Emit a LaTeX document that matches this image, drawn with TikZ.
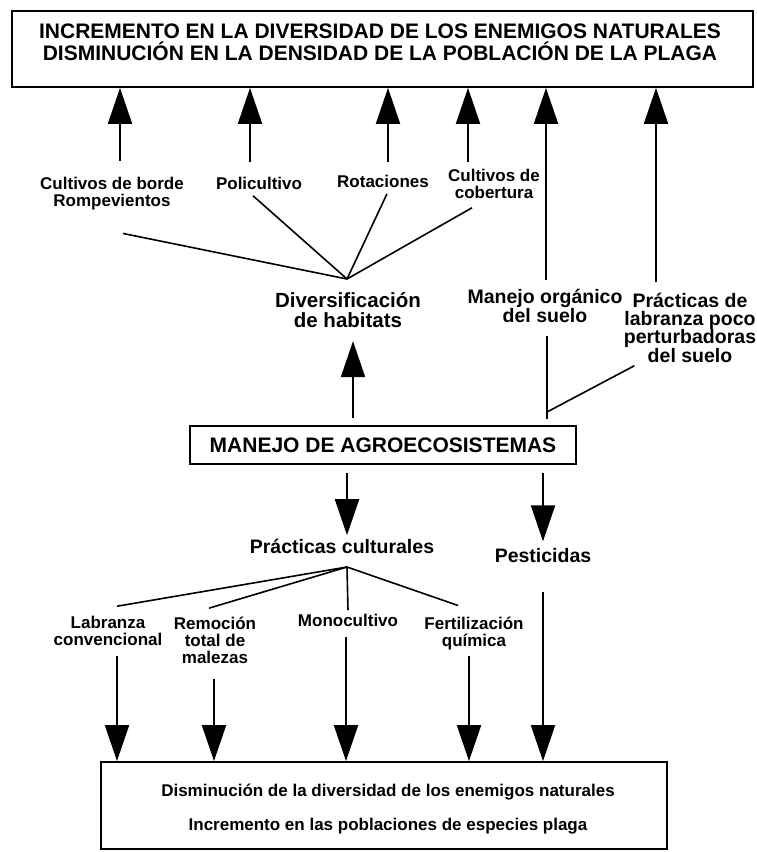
\documentclass[tikz,border=0pt]{standalone}
\usepackage{fontspec}
\setmainfont{Liberation Sans}
\usetikzlibrary{arrows.meta}
\tikzset{
  box/.style={draw,line width=1.8pt,inner sep=0pt},
  sm/.style={font=\fontsize{17}{17}\selectfont\bfseries,align=center},
  md/.style={font=\fontsize{19.5}{18.3}\selectfont\bfseries,align=center},
  lg/.style={font=\fontsize{21}{21.5}\selectfont\bfseries,align=center},
  arr/.style={line width=2pt,-{Triangle[length=36pt,width=24pt]}},
  br/.style={line width=1.6pt},
}
\begin{document}
\begin{tikzpicture}[x=1pt,y=-1pt]
\useasboundingbox (0,0) rectangle (757,852);
% boxes
\node[box,minimum width=741pt,minimum height=76pt] (top) at (382.5,49) {};
\node[lg] (toptxt) at (380,42.5) {INCREMENTO EN LA DIVERSIDAD DE LOS ENEMIGOS NATURALES\\DISMINUCIÓN EN LA DENSIDAD DE LA POBLACIÓN DE LA PLAGA};
\node[box,lg,minimum width=386pt,minimum height=38pt] (man) at (383,445) {MANEJO DE AGROECOSISTEMAS};
\node[box,minimum width=566pt,minimum height=87pt] (bot) at (384,805.5) {};
\node[align=center,font=\fontsize{17}{34}\selectfont\bfseries] (bottxt) at (388,809) {Disminución de la diversidad de los enemigos naturales\\Incremento en las poblaciones de especies plaga};
% upper labels
\node[sm] (borde) at (112,193.5) {Cultivos de borde\\Rompevientos};
\node[sm] (poli) at (259,183) {Policultivo};
\node[sm] (rot) at (383,181) {Rotaciones};
\node[sm] (cob) at (494,183.5) {Cultivos de\\cobertura};
\node[align=center,font=\fontsize{20.5}{20}\selectfont\bfseries] (div) at (348,310) {Diversificación\\de habitats};
\node[md] (org) at (545,306) {Manejo orgánico\\del suelo};
\node[md] (lab) at (690,327.5) {Prácticas de\\labranza poco\\perturbadoras\\del suelo};
% lower labels
\node[md] (pc) at (342,546) {Prácticas culturales};
\node[md] (pest) at (543,556) {Pesticidas};
\node[sm] (labr) at (108,630.5) {Labranza\\convencional};
\node[sm] (rem) at (215,640) {Remoción\\total de\\malezas};
\node[sm] (mono) at (348,620) {Monocultivo};
\node[sm] (fert) at (474,633.5) {Fertilización\\química};
\coordinate (hub) at (347,279);
\coordinate (pchub) at (347,567);
\coordinate (j) at (547,412);
% up to the top box
\foreach \n/\dx/\dy in {borde/8/13,poli/-9/11,rot/5/9,cob/-26/3,org/1/6,lab/-34/7}
  \draw[arr] ([xshift=\dx pt,yshift=\dy pt]\n.north) coordinate (s) -- (s |- top.south);
\draw[br] ([xshift=11pt,yshift=-20pt]borde.south) -- (hub);
\foreach \n/\dx in {poli/-6,rot/4}
  \draw[br] ([xshift=\dx pt,yshift=-3pt]\n.south) -- (hub);
\draw[br] ([xshift=-22pt,yshift=-6pt]cob.south) -- (hub);
\path ([xshift=5pt,yshift=-10pt]div.south) coordinate (d);
\draw[arr] ([yshift=7pt]man.north -| d) -- (d);
\draw[br] ([yshift=-10pt]org.south -| j) -- ([yshift=6pt]man.north -| j);
\draw[br] ([xshift=14pt]lab.south west) -- (j);
% down from the middle box
\draw[arr] ([yshift=-8pt]man.south -| pchub) -- (pc.north -| pchub);
\draw[arr] ([yshift=-8pt]man.south -| pest) -- ([yshift=4pt]pest.north);
\draw[br] (pchub) -- ([xshift=9pt,yshift=6pt]labr.north);
\draw[br] (pchub) -- ([xshift=-6pt,yshift=5pt]rem.north);
\draw[br] (pchub) -- (mono.north);
\draw[br] (pchub) -- ([xshift=-16pt,yshift=8pt]fert.north);
\foreach \n/\dx/\dy in {labr/9/7,rem/-1/12,mono/-2/7,fert/-5/2,pest/0/25}
  \draw[arr] ([xshift=\dx pt,yshift=-\dy pt]\n.south) coordinate (s) -- (s |- bot.north);
\end{tikzpicture}
\end{document}
